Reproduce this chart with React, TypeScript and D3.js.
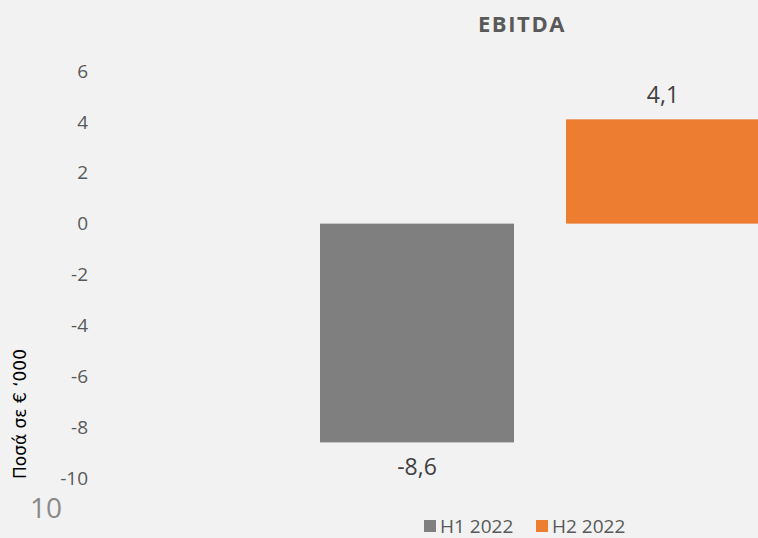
import React from "react";
import * as d3 from "d3";

const title = "EBITDA";
const series = ["H1 2022", "H2 2022"];
const values = [-8.6, 4.1];
const valueLabels = ["-8,6", "4,1"];
const colors = ["#7f7f7f", "#ed7d31"];
const yTicks = [6, 4, 2, 0, -2, -4, -6, -8, -10];
const yAxisLabel = "Ποσά σε € ‘000";
const pageNumber = "10";

const W = 758;
const H = 538;
const FONT = "'Open Sans', 'DejaVu Sans', sans-serif";

export default function App() {
  const y = d3.scaleLinear().domain([-10, 6]).range([478, 71]);
  const x = d3
    .scaleBand<string>()
    .domain(series)
    .range([294, 786])
    .paddingInner(0.2114)
    .paddingOuter(0.1057);

  return (
    <svg
      width={W}
      height={H}
      style={{ position: "absolute", left: 0, top: 0, background: "#f2f2f2" }}
    >
      <rect x={0} y={0} width={W} height={H} fill="#f2f2f2" />
      <text
        x={522}
        y={32}
        textAnchor="middle"
        fontFamily={FONT}
        fontWeight="bold"
        fontSize={22}
        letterSpacing={1.6}
        fill="#595959"
      >
        {title}
      </text>
      {yTicks.map((t) => (
        <text
          key={t}
          x={88}
          y={y(t)}
          dy="0.35em"
          textAnchor="end"
          fontFamily={FONT}
          fontSize={19}
          fill="#595959"
        >
          {t}
        </text>
      ))}
      <text
        transform={`translate(26, 414) rotate(-90)`}
        textAnchor="middle"
        fontFamily="'DejaVu Sans', sans-serif"
        fontSize={17}
        fill="#000000"
      >
        {yAxisLabel}
      </text>
      {series.map((s, i) => {
        const v = values[i];
        const top = y(Math.max(0, v));
        const bottom = y(Math.min(0, v));
        const cx = (x(s) as number) + x.bandwidth() / 2;
        return (
          <g key={s}>
            <rect
              x={x(s)}
              y={top}
              width={x.bandwidth()}
              height={bottom - top}
              fill={colors[i]}
            />
            <text
              x={cx}
              y={v >= 0 ? top - 16 : bottom + 33}
              textAnchor="middle"
              fontFamily={FONT}
              fontSize={23}
              fill="#404040"
            >
              {valueLabels[i]}
            </text>
          </g>
        );
      })}
      <text
        x={30}
        y={518}
        fontFamily={FONT}
        fontSize={28}
        fill="#898989"
      >
        {pageNumber}
      </text>
      {series.map((s, i) => {
        const lx = 424 + i * 112;
        return (
          <g key={"lg" + s}>
            <rect x={lx} y={520} width={12} height={12} fill={colors[i]} />
            <text
              x={lx + 16}
              y={533}
              fontFamily={FONT}
              fontSize={19}
              fill="#595959"
            >
              {s}
            </text>
          </g>
        );
      })}
    </svg>
  );
}
